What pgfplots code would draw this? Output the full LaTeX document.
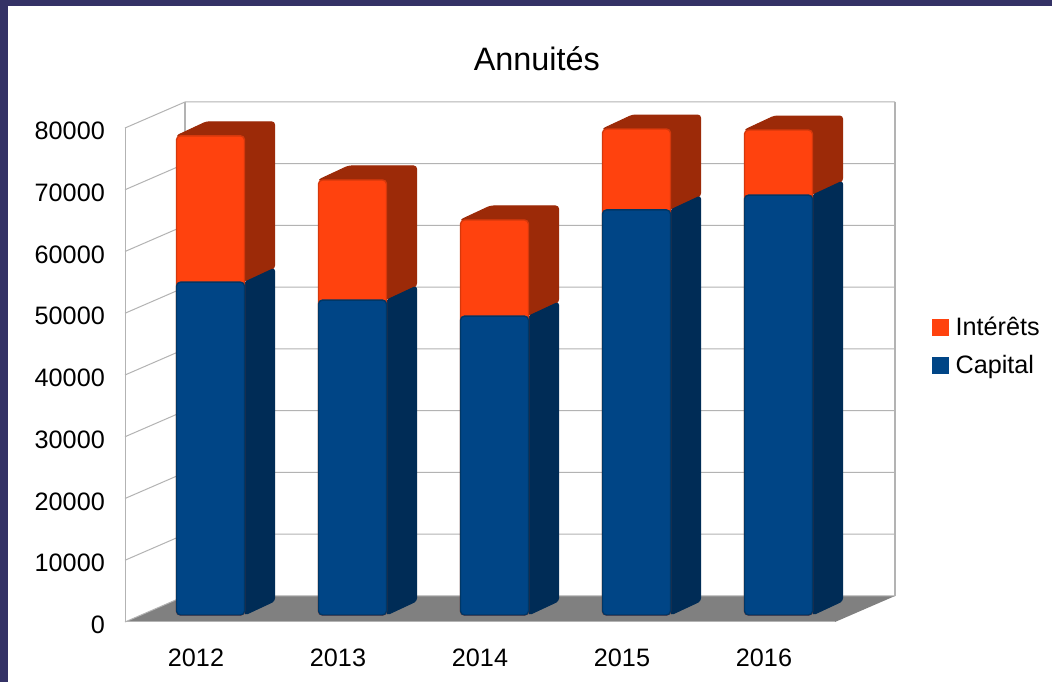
\documentclass[border=0pt]{standalone}
\usepackage{pgfplots}
\usepackage{pgfplotstable}
\usepackage{fontspec}
\setmainfont{Liberation Sans}
\pgfplotsset{compat=1.18}

\definecolor{frame}{HTML}{343266}
\definecolor{wall}{HTML}{B3B3B3}
\definecolor{floorgray}{HTML}{808080}
\definecolor{capfront}{HTML}{004586}
\definecolor{capedge}{HTML}{003766}
\definecolor{capside}{HTML}{002C56}
\definecolor{intfront}{HTML}{FF420E}
\definecolor{intedge}{HTML}{D5380C}
\definecolor{intside}{HTML}{9C2A08}

\pgfplotstableread{
idx year capital interets
0 2012 53900 23700
1 2013 51000 19450
2 2014 48400 15570
3 2015 65600 13100
4 2016 68000 10540
}\annu

% side and top faces of one bar, depth 30px / 14px
\newcommand{\sideface}[1]{%
  \pgfplotstablegetelem{#1}{capital}\of\annu\edef\valc{\pgfplotsretval}%
  \pgfplotstablegetelem{#1}{interets}\of\annu\edef\vali{\pgfplotsretval}%
  \edef\valt{\the\numexpr\valc+\vali\relax}%
  \edef\valcd{\the\numexpr\valc+2267\relax}%
  \edef\valtd{\the\numexpr\valt+2267\relax}%
  \pgfmathsetmacro\xl{#1-0.240}%
  \pgfmathsetmacro\xr{#1+0.240}%
  \pgfmathsetmacro\xld{\xl+0.2113}%
  \pgfmathsetmacro\xrd{\xr+0.2113}%
  \edef\tmp{\noexpand\addplot[fill=intside,draw=intside,line width=1pt,rounded corners=3pt,forget plot]
    coordinates {(\xl,\valt) (\xld,\valtd) (\xrd,\valtd) (\xrd,\valcd) (\xr,\valc) (\xr,\valt)} --cycle;}\tmp
  \edef\tmp{\noexpand\addplot[fill=capside,draw=capside,line width=1pt,rounded corners=3pt,forget plot]
    coordinates {(\xr,0) (\xrd,2267) (\xrd,\valcd) (\xr,\valc)} --cycle;}\tmp
}

\begin{document}
\begin{tikzpicture}[x=1pt,y=1pt]
\useasboundingbox (0,0) rectangle (1052,682);
\fill[white] (0,0) rectangle (1052,682);
\fill[frame] (0,0) rectangle (8,682);
\fill[frame] (0,676) rectangle (1052,682);

% frame of the chart: walls, floor, labels (front plane 125..835 px)
\begin{axis}[
  at={(125pt,60pt)}, anchor=south west,
  scale only axis, width=710pt, height=494pt,
  xmin=-0.5, xmax=4.5, ymin=0, ymax=80000,
  clip=false,
  axis line style={draw=none},
  major tick length=0pt,
  xtick={0,1,2,3,4},
  xticklabels={2012,2013,2014,2015,2016},
  ytick={0,10000,...,80000},
  scaled y ticks=false,
  /pgf/number format/1000 sep={},
  /pgf/number format/assume math mode=true,
  tick label style={font=\fontsize{25.2}{30}\selectfont, black},
  every y tick label/.append style={inner sep=0pt, xshift=-20pt, yshift=-3pt},
  every x tick label/.append style={inner sep=0pt, yshift=-27pt},
  title={Annuités},
  title style={font=\fontsize{32.4}{38}\selectfont, at={(axis description cs:0.580,1.129)}, anchor=center, inner sep=0pt},
  legend style={draw=none, fill=none, font=\fontsize{25.2}{30}\selectfont,
    at={(axis description cs:1.1366,0.618)}, anchor=north west, inner sep=0pt,
    row sep=18pt, nodes={inner sep=0pt}},
  legend cell align=left,
  legend image code/.code={\fill[#1] (0pt,-8pt) rectangle (16pt,8pt);},
]
\addlegendimage{intfront}
\addlegendentry{\hspace{7pt}Intérêts}
\addlegendimage{capfront}
\addlegendentry{\hspace{7pt}Capital}

\addplot[draw=none, fill=floorgray, forget plot] coordinates
  {(-0.5,0) (-0.0775,4211) (4.9225,4211) (4.5,0)} --cycle;
\pgfplotsinvokeforeach{0,1,...,8}{
  \edef\gy{\the\numexpr#1*10000\relax}
  \edef\gyd{\the\numexpr#1*10000+4211\relax}
  \edef\tmp{\noexpand\addplot[wall, line width=1pt, forget plot] coordinates
    {(-0.5,\gy) (-0.0775,\gyd) (4.9225,\gyd)};}\tmp
}
\addplot[wall, line width=1pt, forget plot] coordinates {(-0.5,0) (-0.5,80000)};
\addplot[wall, line width=1.2pt, forget plot] coordinates {(-0.0775,4211) (-0.0775,84211)};
\addplot[wall, line width=1.2pt, forget plot] coordinates {(4.9225,4211) (4.9225,84211)};
\addplot[wall, line width=1pt, forget plot] coordinates {(-0.5,0) (4.5,0)};
\end{axis}

% the bars, standing 15px in and 7px up from the front plane
\begin{axis}[
  at={(139.5pt,67pt)}, anchor=south west,
  scale only axis, width=710pt, height=494pt,
  xmin=-0.5, xmax=4.5, ymin=0, ymax=80000,
  clip=false, hide axis,
]
\sideface{0}
\sideface{1}
\sideface{2}
\sideface{3}
\sideface{4}
\addplot[ybar, bar width=68pt, bar shift=0pt, fill=intfront, draw=intedge, line width=1.4pt, rounded corners=4pt]
  table[x=idx, y expr=\thisrow{capital}+\thisrow{interets}] {\annu};
\addplot[ybar, bar width=68pt, bar shift=0pt, fill=capfront, draw=capedge, line width=1.4pt, rounded corners=4pt]
  table[x=idx, y=capital] {\annu};
\end{axis}
\end{tikzpicture}
\end{document}
